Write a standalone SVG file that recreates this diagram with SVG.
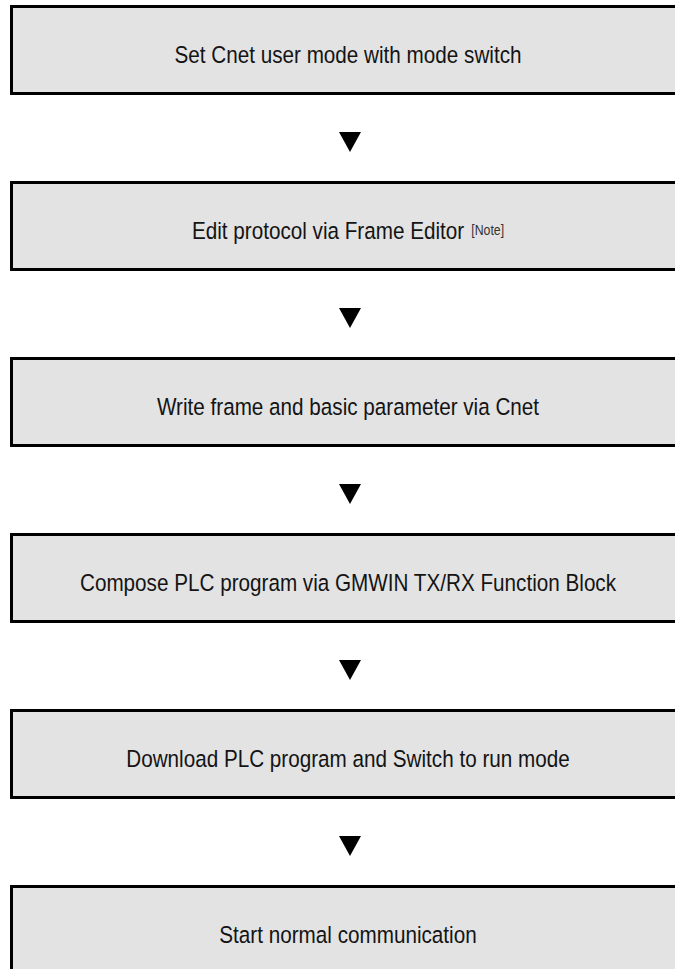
<svg xmlns="http://www.w3.org/2000/svg" width="675" height="969" viewBox="0 0 675 969">
  <style>
    .box { fill: #e3e3e3; stroke: #000; stroke-width: 3; }
    .label { font-family: "Liberation Sans", Arial, sans-serif; font-size: 23.5px; fill: #141414; text-anchor: middle; }
    .note { font-size: 14px; fill: #333; }
    .arrow { fill: #000; }
  </style>
  <rect width="675" height="969" fill="#fff"/>

  <!-- process steps; boxes run past the right edge, labels are set narrow -->
  <g id="step1">
    <rect class="box" x="11.5" y="6.5" width="700" height="87"/>
    <text class="label" transform="translate(348 63) scale(0.88 1)">Set Cnet user mode with mode switch</text>
  </g>
  <g id="step2">
    <rect class="box" x="11.5" y="182.5" width="700" height="87"/>
    <text class="label" transform="translate(348 239) scale(0.88 1)">Edit protocol via Frame Editor<tspan class="note" dx="8" dy="-4">[Note]</tspan></text>
  </g>
  <g id="step3">
    <rect class="box" x="11.5" y="358.5" width="700" height="87"/>
    <text class="label" transform="translate(348 415) scale(0.88 1)">Write frame and basic parameter via Cnet</text>
  </g>
  <g id="step4">
    <rect class="box" x="11.5" y="534.5" width="700" height="87"/>
    <text class="label" transform="translate(348 591) scale(0.88 1)">Compose PLC program via GMWIN TX/RX Function Block</text>
  </g>
  <g id="step5">
    <rect class="box" x="11.5" y="710.5" width="700" height="87"/>
    <text class="label" transform="translate(348 767) scale(0.88 1)">Download PLC program and Switch to run mode</text>
  </g>
  <g id="step6">
    <rect class="box" x="11.5" y="886.5" width="700" height="87"/>
    <text class="label" transform="translate(348 943) scale(0.88 1)">Start normal communication</text>
  </g>

  <!-- flow markers between steps -->
  <g id="connectors">
    <polygon class="arrow" points="339,132 361,132 350,152"/>
    <polygon class="arrow" points="339,308 361,308 350,328"/>
    <polygon class="arrow" points="339,484 361,484 350,504"/>
    <polygon class="arrow" points="339,660 361,660 350,680"/>
    <polygon class="arrow" points="339,836 361,836 350,856"/>
  </g>
</svg>
